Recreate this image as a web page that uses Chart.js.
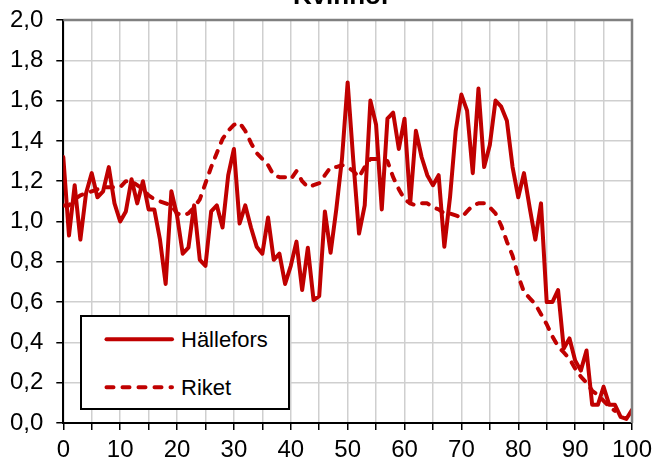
<!DOCTYPE html>
<html>
<head>
<meta charset="utf-8">
<script src="https://cdn.jsdelivr.net/npm/chart.js@4/dist/chart.umd.min.js"></script>
<style>
html,body{margin:0;padding:0;background:#fff;}
#wrap{position:relative;width:655px;height:462px;}
canvas{display:block;}
#leg{position:absolute;left:80px;top:315px;}
</style>
</head>
<body>
<div id="wrap">
<canvas id="c" width="655" height="462"></canvas>
<svg id="leg" width="210" height="95"></svg>
</div>
<script>
const chartTitle = 'Kvinnor';
const seriesNames = ['Hällefors', 'Riket'];
const ages = Array.from({length: 101}, (_, i) => i);
const hallefors = [
  1.32, 0.93, 1.18, 0.91, 1.14, 1.24, 1.12, 1.15, 1.27, 1.09,
  1.00, 1.05, 1.21, 1.09, 1.20, 1.06, 1.06, 0.91, 0.69, 1.15,
  1.03, 0.84, 0.87, 1.08, 0.81, 0.78, 1.05, 1.08, 0.97, 1.23,
  1.36, 0.99, 1.08, 0.97, 0.875, 0.84, 1.02, 0.81, 0.84, 0.69,
  0.78, 0.90, 0.66, 0.87, 0.61, 0.63, 1.05, 0.845, 1.06, 1.31,
  1.69, 1.30, 0.94, 1.08, 1.60, 1.48, 1.06, 1.51, 1.54, 1.36,
  1.51, 1.09, 1.45, 1.32, 1.23, 1.18, 1.23, 0.875, 1.12, 1.45,
  1.63, 1.55, 1.24, 1.66, 1.27, 1.38, 1.60, 1.57, 1.50, 1.27,
  1.12, 1.24, 1.07, 0.91, 1.09, 0.60, 0.60, 0.66, 0.37, 0.42,
  0.31, 0.26, 0.36, 0.09, 0.09, 0.18, 0.09, 0.09, 0.03, 0.02,
  0.065
];
const riket = [
  1.08, 1.08, 1.11, 1.13, 1.14, 1.15, 1.16, 1.17, 1.17, 1.17,
  1.17, 1.20, 1.20, 1.18, 1.16, 1.13, 1.11, 1.10, 1.09, 1.08,
  1.04, 1.03, 1.04, 1.07, 1.11, 1.19, 1.27, 1.34, 1.41, 1.45,
  1.48, 1.49, 1.45, 1.39, 1.34, 1.31, 1.28, 1.23, 1.22, 1.22,
  1.21, 1.25, 1.20, 1.17, 1.18, 1.19, 1.23, 1.27, 1.27, 1.28,
  1.27, 1.25, 1.22, 1.27, 1.31, 1.31, 1.31, 1.30, 1.22, 1.16,
  1.11, 1.09, 1.08, 1.09, 1.09, 1.07, 1.06, 1.04, 1.04, 1.03,
  1.02, 1.05, 1.08, 1.09, 1.09, 1.07, 1.04, 0.98, 0.90, 0.83,
  0.73, 0.65, 0.62, 0.59, 0.54, 0.49, 0.43, 0.38, 0.35, 0.32,
  0.27, 0.23, 0.20, 0.16, 0.14, 0.11, 0.08, 0.06, null, null,
  null
];
const xTickStep = 5;
const xLabelStep = 10;
const yTickStep = 0.2;

const RED = '#c00000';
const FONT = 'Arial, "Liberation Sans", sans-serif';

const frame = {
  id: 'frame',
  afterDraw(chart) {
    const {ctx, chartArea: a} = chart;
    ctx.save();
    ctx.strokeStyle = '#808080';
    ctx.lineWidth = 2.5;
    ctx.beginPath();
    ctx.moveTo(a.left, a.top);
    ctx.lineTo(a.right, a.top);
    ctx.lineTo(a.right, a.bottom);
    ctx.stroke();
    ctx.fillStyle = '#000';
    ctx.font = 'bold 26px ' + FONT;
    ctx.textAlign = 'center';
    ctx.textBaseline = 'alphabetic';
    ctx.fillText(chartTitle, 342, 4);
    ctx.restore();
  }
};

new Chart(document.getElementById('c'), {
  type: 'line',
  data: {
    datasets: [
      {
        label: seriesNames[0],
        data: ages.map((a, i) => ({x: a, y: hallefors[i]})),
        borderColor: RED, borderWidth: 4, pointRadius: 0, pointHoverRadius: 0, tension: 0,
        borderJoinStyle: 'round', borderCapStyle: 'round', order: 2
      },
      {
        label: seriesNames[1],
        data: ages.map((a, i) => ({x: a, y: riket[i]})),
        borderColor: RED, borderWidth: 4, pointRadius: 0, pointHoverRadius: 0, tension: 0,
        borderDash: [7, 9], borderCapStyle: 'round', borderJoinStyle: 'round', order: 1
      }
    ]
  },
  options: {
    responsive: false,
    animation: false,
    layout: {autoPadding: false, padding: {left: 10, right: 23, top: 20, bottom: 0}},
    plugins: {legend: {display: false}, title: {display: false}, tooltip: {enabled: false}},
    scales: {
      x: {
        type: 'linear', min: 0, max: 100,
        afterFit(s) { s.height = 39; s.paddingLeft = 0; s.paddingRight = 0; },
        ticks: {
          stepSize: xTickStep, autoSkip: false, maxRotation: 0, padding: 8,
          color: '#000', font: {family: FONT, size: 24, lineHeight: 1.0},
          callback: v => (v % xLabelStep === 0 ? String(v) : '')
        },
        grid: {color: '#cfcfcf', lineWidth: 1.5, tickLength: 7, tickColor: '#000', tickWidth: 1.5},
        border: {color: '#000', width: 2}
      },
      y: {
        min: 0, max: 2,
        afterFit(s) { s.width = 53.3; s.paddingTop = 0; s.paddingBottom = 0; },
        ticks: {
          stepSize: yTickStep, padding: 13, color: '#000',
          font: {family: FONT, size: 24, lineHeight: 1.0},
          callback: v => v.toFixed(1).replace('.', ',')
        },
        grid: {color: '#cfcfcf', lineWidth: 1.5, tickLength: 7, tickColor: '#000', tickWidth: 1.5},
        border: {color: '#000', width: 2}
      }
    }
  },
  plugins: [frame]
});

// Legend (HTML/SVG overlay)
(function () {
  const svg = document.getElementById('leg');
  const ns = 'http://www.w3.org/2000/svg';
  const mk = (tag, attrs) => { const e = document.createElementNS(ns, tag); for (const k in attrs) e.setAttribute(k, attrs[k]); svg.appendChild(e); return e; };
  mk('rect', {x: 1, y: 1, width: 208, height: 93, fill: '#fff', stroke: '#000', 'stroke-width': 2});
  const rows = [{y: 24.3, dash: null, base: 31.7}, {y: 72.3, dash: '7 9', base: 79.5}];
  rows.forEach((r, i) => {
    const l = mk('line', {x1: 26.5, y1: r.y, x2: 92, y2: r.y, stroke: RED, 'stroke-width': 4, 'stroke-linecap': 'round'});
    if (r.dash) l.setAttribute('stroke-dasharray', r.dash);
    const t = mk('text', {x: 101, y: r.base, fill: '#000', 'font-family': FONT, 'font-size': 22});
    t.textContent = seriesNames[i];
  });
})();
</script>
</body>
</html>
